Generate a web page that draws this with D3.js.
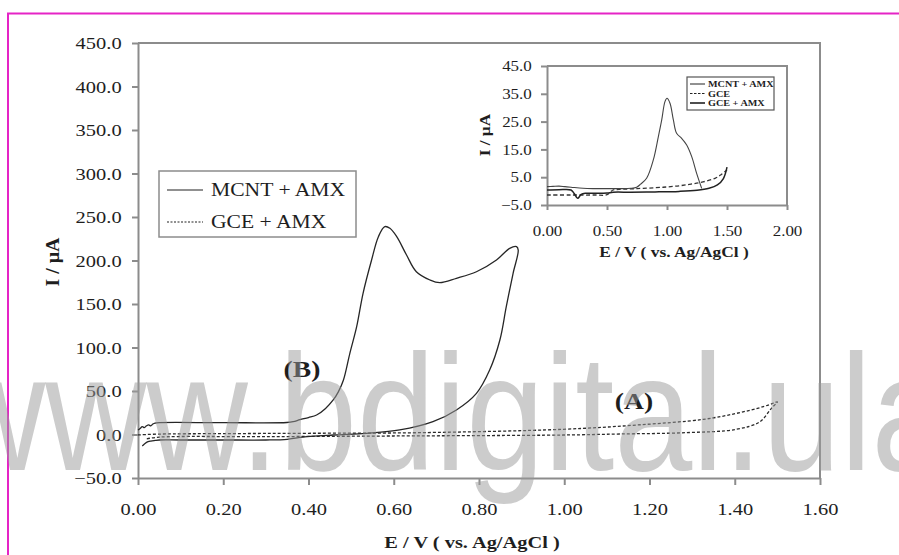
<!DOCTYPE html>
<html><head><meta charset="utf-8">
<script src="https://cdn.jsdelivr.net/npm/d3@7"></script>
<style>
html,body{margin:0;padding:0;background:#fff;}
svg{display:block;}
</style></head>
<body>
<svg id="chart" width="899" height="555"></svg>
<script>
// ---------- DATA ----------
const mainTicksX = [0, 0.2, 0.4, 0.6, 0.8, 1.0, 1.2, 1.4, 1.6];
const mainTicksY = [-50, 0, 50, 100, 150, 200, 250, 300, 350, 400, 450];
const insetTicksX = [0, 0.5, 1.0, 1.5, 2.0];
const insetTicksY = [-5, 5, 15, 25, 35, 45];

// Main CV: MCNT + AMX (solid)
const mcntE = [0.000,0.005,0.010,0.015,0.020,0.025,0.030,0.035,0.040,0.050,0.200,0.349,0.364,0.380,0.400,0.419,0.440,0.458,0.470,0.482,0.497,0.513,0.528,0.548,0.564,0.579,0.591,0.607,0.630,0.653,0.685,0.708,0.747,0.794,0.841,0.872,0.888,
  0.892,0.880,0.864,0.849,0.825,0.794,0.747,0.692,0.614,0.536,0.458,0.380,0.350,0.300,0.200,0.100,0.050,0.040,0.030,0.020,0.010];
const mcntI = [5.2,7.0,9.0,8.0,10.0,11.0,10.0,12.0,13.0,13.6,13.6,13.8,14.7,17.0,19.5,22.4,30.0,39.7,49.0,62.6,93.3,123.9,162.3,200.6,227.4,238.9,237.0,227.4,206.3,187.1,177.6,174.5,179.5,187.1,200.6,214.0,215.9,
  212.0,185.3,146.9,108.6,74.1,47.3,28.2,14.7,5.2,1.4,-0.6,-3.3,-5.5,-6.3,-6.3,-6.3,-6.3,-6.8,-7.5,-9.0,-13.2];

// Main CV: GCE + AMX (dotted)
const gceE = [0.000,0.050,0.200,0.400,0.661,0.998,1.170,1.326,1.404,1.467,1.494,1.500,
  1.486,1.459,1.404,1.286,1.130,0.997,0.600,0.300,0.050,0.020];
const gceI = [-0.5,0.5,1.0,1.4,2.1,6.0,10.9,17.4,24.3,32.0,36.6,37.5,
  30.1,14.7,6.0,2.1,0.6,-0.6,-1.7,-2.5,-3.0,-5.0];

// Inset (DPV): three series
const inMcntE = [0.00,0.05,0.10,0.15,0.20,0.30,0.40,0.50,0.60,0.70,0.747,0.78,0.83,0.886,0.928,0.956,0.983,1.000,1.025,1.053,1.080,1.122,1.164,1.206,1.247,1.289];
const inMcntI = [1.6,1.7,1.8,1.6,1.4,1.0,0.9,0.9,0.9,1.0,1.4,2.5,4.6,11.2,19.6,25.6,32.2,33.4,31.6,25.6,20.8,19.0,16.6,12.4,6.4,1.0];
const inGceE = [0.00,0.20,0.40,0.50,0.55,0.60,0.75,0.90,1.00,1.10,1.20,1.30,1.40,1.45,1.50];
const inGceI = [-1.4,-1.4,-1.4,-1.3,0.4,0.6,0.9,1.2,1.5,1.9,2.5,3.3,4.6,5.9,7.6];
const inGceAmxE = [0.00,0.10,0.20,0.225,0.255,0.285,0.32,0.40,0.50,0.55,0.70,0.90,1.10,1.25,1.35,1.42,1.47,1.50];
const inGceAmxI = [0.4,0.5,0.4,-0.8,-2.6,-1.2,-0.8,-0.8,-0.7,-0.4,-0.4,-0.3,-0.1,0.3,1.0,2.2,4.5,8.6];

const mainLegend = ["MCNT + AMX", "GCE + AMX"];
const insetLegend = ["MCNT + AMX", "GCE", "GCE + AMX"];

// ---------- DRAW ----------
const svg = d3.select("#chart");
const SERIF = "Liberation Serif, Times New Roman, serif";
const AXIS = "#8c8c8c";
const INK = "#1e1e1e";
const zip = (a, b) => a.map((v, i) => [v, b[i]]);

function stext(g, x, y, str, o) {
  o = o || {};
  return g.append("text")
    .attr("transform", `translate(${x},${y})` + (o.rot ? ` rotate(${o.rot})` : "") + ` scale(${o.sx || 1.18},1)`)
    .attr("text-anchor", o.anchor || "middle")
    .attr("font-family", SERIF)
    .attr("font-size", o.size || 17)
    .attr("font-weight", o.bold ? "bold" : "normal")
    .attr("fill", o.fill || INK)
    .text(str);
}

// magenta frame
svg.append("line").attr("x1", 7).attr("x2", 899).attr("y1", 13.5).attr("y2", 13.5).attr("stroke", "#e524c6").attr("stroke-width", 2);
svg.append("line").attr("x1", 8).attr("x2", 8).attr("y1", 13).attr("y2", 555).attr("stroke", "#e524c6").attr("stroke-width", 2);

// ---- main plot ----
const x = d3.scaleLinear().domain([0, 1.6]).range([138, 820]);
const y = d3.scaleLinear().domain([-50, 450]).range([478, 43]);

const gx = svg.append("g").attr("transform", `translate(0,${y(-50)})`)
  .call(d3.axisBottom(x).tickValues(mainTicksX).tickFormat(d3.format(".2f")).tickSize(7).tickSizeOuter(0).tickPadding(18));
const gy = svg.append("g").attr("transform", `translate(${x(0)},0)`)
  .call(d3.axisLeft(y).tickValues(mainTicksY).tickFormat(d3.format(".1f")).tickSize(6).tickSizeOuter(0).tickPadding(8));
[gx, gy].forEach(g => {
  g.select(".domain").attr("stroke", AXIS).attr("stroke-width", 2);
  g.selectAll(".tick line").attr("stroke", AXIS).attr("stroke-width", 2);
  g.selectAll(".tick text").attr("font-family", SERIF).attr("font-size", 17.5).attr("fill", INK).attr("transform", "scale(1.17,1)");
});
// top & right border of plot area
svg.append("path").attr("d", `M${x(0)},${y(450)}H${x(1.6)}V${y(-50)}`).attr("fill", "none").attr("stroke", AXIS).attr("stroke-width", 2);

const line = d3.line().x(d => x(d[0])).y(d => y(d[1])).curve(d3.curveCatmullRom.alpha(0.5));
svg.append("path").datum(zip(gceE, gceI)).attr("d", line).attr("fill", "none").attr("stroke", "#2a2a2a").attr("stroke-width", 1.3).attr("stroke-dasharray", "3,2");
svg.append("path").datum(zip(mcntE, mcntI)).attr("d", line).attr("fill", "none").attr("stroke", "#262626").attr("stroke-width", 1.3);

// axis titles
stext(svg, 472, 548, "E / V ( vs. Ag/AgCl )", {size: 17, bold: true, sx: 1.2});
stext(svg, 59, 262, "I / µA", {size: 18, bold: true, rot: -90, sx: 1.1});

// annotations
stext(svg, 302, 377, "(B)", {size: 24, bold: true, sx: 1.15});
stext(svg, 634, 409, "(A)", {size: 24, bold: true, sx: 1.15});

// main legend
const lg = svg.append("g");
lg.append("rect").attr("x", 159).attr("y", 171).attr("width", 197).attr("height", 66).attr("fill", "#fff").attr("stroke", "#8c8c8c").attr("stroke-width", 1.5);
const lgStyles = [null, "2,1.5"];
mainLegend.forEach((name, i) => {
  const ly = 190 + i * 32;
  lg.append("line").attr("x1", 167).attr("x2", 203).attr("y1", ly).attr("y2", ly).attr("stroke", "#222").attr("stroke-width", 1.1).attr("stroke-dasharray", lgStyles[i]);
  stext(lg, 211, ly + 6, name, {size: 18, anchor: "start", sx: 1.2});
});

// ---- inset ----
const ix = d3.scaleLinear().domain([0, 2]).range([547, 787]);
const iy = d3.scaleLinear().domain([-5, 45]).range([205, 66]);
const igx = svg.append("g").attr("transform", `translate(0,${iy(-5)})`)
  .call(d3.axisBottom(ix).tickValues(insetTicksX).tickFormat(d3.format(".2f")).tickSize(5).tickSizeOuter(0).tickPadding(16));
const igy = svg.append("g").attr("transform", `translate(${ix(0)},0)`)
  .call(d3.axisLeft(iy).tickValues(insetTicksY).tickFormat(d3.format(".1f")).tickSize(6).tickSizeOuter(0).tickPadding(7));
[igx, igy].forEach(g => {
  g.select(".domain").attr("stroke", AXIS).attr("stroke-width", 2);
  g.selectAll(".tick line").attr("stroke", AXIS).attr("stroke-width", 2);
  g.selectAll(".tick text").attr("font-family", SERIF).attr("font-size", 14.5).attr("fill", INK).attr("transform", "scale(1.17,1)");
});
svg.append("path").attr("d", `M${ix(0)},${iy(45)}H${ix(2)}V${iy(-5)}`).attr("fill", "none").attr("stroke", AXIS).attr("stroke-width", 2);

const iline = d3.line().x(d => ix(d[0])).y(d => iy(d[1])).curve(d3.curveCatmullRom.alpha(0.5));
svg.append("path").datum(zip(inGceE, inGceI)).attr("d", iline).attr("fill", "none").attr("stroke", "#333").attr("stroke-width", 1.3).attr("stroke-dasharray", "4,2.5");
svg.append("path").datum(zip(inGceAmxE, inGceAmxI)).attr("d", iline).attr("fill", "none").attr("stroke", "#222").attr("stroke-width", 1.5);
svg.append("path").datum(zip(inMcntE, inMcntI)).attr("d", iline).attr("fill", "none").attr("stroke", "#444").attr("stroke-width", 1.1);

stext(svg, 674, 257, "E / V ( vs. Ag/AgCl )", {size: 14.5, bold: true, sx: 1.2});
stext(svg, 490, 135, "I / µA", {size: 15, bold: true, rot: -90, sx: 1.15});

const ilg = svg.append("g");
ilg.append("rect").attr("x", 687).attr("y", 77).attr("width", 87).attr("height", 33).attr("fill", "#fff").attr("stroke", "#555").attr("stroke-width", 1.2);
const ilgStyles = [[null, 1], ["2.5,1.5", 1.1], [null, 1.6]];
insetLegend.forEach((name, i) => {
  const ly = 84 + i * 9.5;
  ilg.append("line").attr("x1", 690).attr("x2", 705).attr("y1", ly).attr("y2", ly).attr("stroke", "#222").attr("stroke-width", ilgStyles[i][1]).attr("stroke-dasharray", ilgStyles[i][0]);
  stext(ilg, 708, ly + 3, name, {size: 8.5, bold: true, anchor: "start", sx: 1.2});
});

// ---- watermark ----
svg.append("text")
  .attr("transform", "translate(-56,470) scale(0.85,1)")
  .attr("font-family", "Liberation Sans, Arial, sans-serif")
  .attr("font-size", 165)
  .attr("fill", "#9a9a9a")
  .attr("fill-opacity", 0.5)
  .text("www.bdigital.ula");
</script>
</body></html>
